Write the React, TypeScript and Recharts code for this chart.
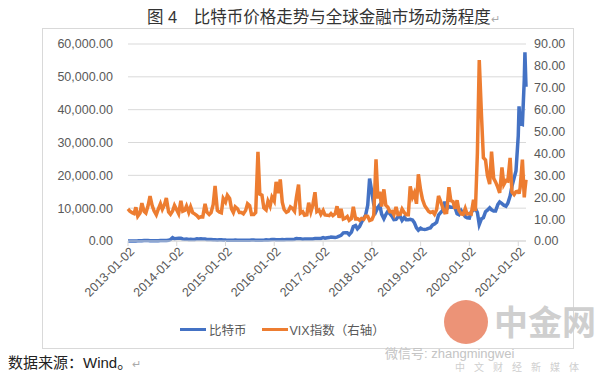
import { LineChart, Line, XAxis, YAxis, CartesianGrid } from 'recharts';

const dates = [
  "2013-01-02","2013-01-16","2013-02-02","2013-02-16","2013-03-02","2013-03-16","2013-04-02","2013-04-16","2013-05-02","2013-05-16","2013-06-02","2013-06-16","2013-07-02","2013-07-16","2013-08-02","2013-08-16","2013-09-02","2013-09-16","2013-10-02","2013-10-16","2013-11-02","2013-11-16","2013-12-02","2013-12-16",
  "2014-01-02","2014-01-16","2014-02-02","2014-02-16","2014-03-02","2014-03-16","2014-04-02","2014-04-16","2014-05-02","2014-05-16","2014-06-02","2014-06-16","2014-07-02","2014-07-16","2014-08-02","2014-08-16","2014-09-02","2014-09-16","2014-10-02","2014-10-16","2014-11-02","2014-11-16","2014-12-02","2014-12-16",
  "2015-01-02","2015-01-16","2015-02-02","2015-02-16","2015-03-02","2015-03-16","2015-04-02","2015-04-16","2015-05-02","2015-05-16","2015-06-02","2015-06-16","2015-07-02","2015-07-16","2015-08-02","2015-08-16","2015-09-02","2015-09-16","2015-10-02","2015-10-16","2015-11-02","2015-11-16","2015-12-02","2015-12-16",
  "2016-01-02","2016-01-16","2016-02-02","2016-02-16","2016-03-02","2016-03-16","2016-04-02","2016-04-16","2016-05-02","2016-05-16","2016-06-02","2016-06-16","2016-07-02","2016-07-16","2016-08-02","2016-08-16","2016-09-02","2016-09-16","2016-10-02","2016-10-16","2016-11-02","2016-11-16","2016-12-02","2016-12-16",
  "2017-01-02","2017-01-16","2017-02-02","2017-02-16","2017-03-02","2017-03-16","2017-04-02","2017-04-16","2017-05-02","2017-05-16","2017-06-02","2017-06-16","2017-07-02","2017-07-16","2017-08-02","2017-08-16","2017-09-02","2017-09-16","2017-10-02","2017-10-16","2017-11-02","2017-11-16","2017-12-02","2017-12-16",
  "2018-01-02","2018-01-16","2018-02-02","2018-02-16","2018-03-02","2018-03-16","2018-04-02","2018-04-16","2018-05-02","2018-05-16","2018-06-02","2018-06-16","2018-07-02","2018-07-16","2018-08-02","2018-08-16","2018-09-02","2018-09-16","2018-10-02","2018-10-16","2018-11-02","2018-11-16","2018-12-02","2018-12-16",
  "2019-01-02","2019-01-16","2019-02-02","2019-02-16","2019-03-02","2019-03-16","2019-04-02","2019-04-16","2019-05-02","2019-05-16","2019-06-02","2019-06-16","2019-07-02","2019-07-16","2019-08-02","2019-08-16","2019-09-02","2019-09-16","2019-10-02","2019-10-16","2019-11-02","2019-11-16","2019-12-02","2019-12-16",
  "2020-01-02","2020-01-16","2020-02-02","2020-02-16","2020-03-02","2020-03-16","2020-04-02","2020-04-16","2020-05-02","2020-05-16","2020-06-02","2020-06-16","2020-07-02","2020-07-16","2020-08-02","2020-08-16","2020-09-02","2020-09-16","2020-10-02","2020-10-16","2020-11-02","2020-11-16","2020-12-02","2020-12-16",
  "2021-01-02","2021-01-08","2021-01-16","2021-02-02","2021-02-16","2021-02-21","2021-03-01",
];

// 比特币 (USD)
const btcPrice = [
  13, 15, 20, 27, 34, 47, 100, 80, 115, 120, 122, 102, 90, 95, 97, 100, 125, 125, 125, 140, 200, 430, 1000, 690,
  800, 830, 820, 620, 560, 630, 450, 520, 450, 450, 660, 590, 650, 620, 590, 490, 480, 460, 380, 390, 320, 390, 380, 320,
  315, 200, 240, 235, 260, 285, 250, 225, 235, 237, 225, 250, 255, 280, 280, 260, 230, 230, 238, 265, 360, 330, 360, 455,
  430, 385, 370, 405, 430, 415, 420, 430, 450, 455, 540, 750, 680, 665, 550, 575, 575, 610, 615, 640, 730, 740, 770, 790,
  1020, 830, 1000, 1040, 1230, 1170, 1100, 1180, 1450, 1730, 2480, 2500, 2500, 1930, 2730, 4380, 4700, 3700, 4400, 5600, 7000, 7900, 10900, 19000,
  14800, 11200, 9000, 10200, 11000, 8200, 6800, 8000, 9100, 8300, 7500, 6500, 6600, 7300, 7500, 6300, 7200, 6500, 6500, 6600, 6400, 5600, 4000, 3300,
  3900, 3600, 3500, 3600, 3850, 4000, 4900, 5200, 5700, 7900, 8700, 9300, 12000, 9700, 10500, 10300, 10300, 10200, 8300, 8000, 9300, 8500, 7400, 7100,
  7000, 8900, 9400, 9900, 8700, 5000, 6800, 7100, 8900, 9400, 10100, 9500, 9100, 9100, 11100, 11900, 11400, 10900, 10600, 11500, 13700, 16700, 19200, 21300,
  32000, 41000, 35800, 35500, 49000, 57500, 47000,
];

// VIX指数 (右轴)
const vixIndex = [
  14.7, 13.6, 12.9, 12.5, 15.4, 11.3, 12.8, 17.3, 13.6, 12.8, 16.3, 20.5, 16.2, 13.8, 12.0, 14.4, 17.0, 14.5, 16.6, 19.6, 13.2, 12.2, 13.7, 16.2,
  14.2, 12.5, 18.4, 13.6, 14.0, 16.0, 13.1, 15.6, 12.9, 12.4, 11.6, 10.6, 11.1, 11.0, 17.0, 13.2, 12.1, 13.0, 16.7, 25.2, 14.0, 13.3, 12.9, 19.4,
  17.8, 20.9, 19.4, 14.7, 13.0, 15.6, 14.7, 13.0, 13.0, 12.4, 14.0, 17.0, 16.1, 12.1, 12.1, 13.0, 40.7, 21.4, 20.9, 15.1, 14.2, 18.2, 15.9, 20.0,
  18.2, 27.0, 21.9, 28.1, 17.7, 14.4, 13.1, 13.6, 15.6, 15.0, 13.6, 20.0, 25.8, 12.7, 13.4, 11.8, 12.0, 17.5, 13.3, 16.2, 22.3, 13.4, 14.1, 12.2,
  14.0, 11.9, 11.8, 11.6, 12.5, 11.6, 12.4, 15.9, 10.6, 14.7, 10.0, 10.4, 11.2, 9.5, 10.3, 15.6, 10.1, 10.2, 9.5, 10.3, 9.9, 11.4, 11.3, 9.4,
  9.8, 11.7, 37.3, 19.5, 22.5, 15.8, 23.6, 16.4, 15.4, 13.4, 13.5, 12.0, 15.6, 12.1, 12.2, 14.6, 12.9, 12.0, 12.0, 25.0, 20.0, 22.0, 17.0, 30.5,
  23.2, 19.0, 16.1, 14.9, 13.6, 13.0, 13.4, 12.2, 14.4, 20.6, 17.9, 15.3, 12.9, 13.0, 24.6, 18.5, 18.0, 14.7, 18.6, 14.0, 12.3, 12.1, 14.9, 12.3,
  12.5, 12.3, 18.8, 13.7, 40.1, 82.7, 57.0, 38.0, 37.0, 30.0, 26.0, 40.8, 28.6, 27.0, 24.5, 22.0, 33.6, 25.8, 27.6, 27.4, 38.0, 22.4, 21.2, 22.5,
  22.8, 21.6, 24.3, 37.2, 19.9, 23.5, 28.0,
];

const xTickLabels = ["2013-01-02","2014-01-02","2015-01-02","2016-01-02","2017-01-02","2018-01-02","2019-01-02","2020-01-02","2021-01-02"];
const leftTicks = [0, 10000, 20000, 30000, 40000, 50000, 60000];
const rightTicks = [0, 10, 20, 30, 40, 50, 60, 70, 80, 90];

const toTs = (d: string) => new Date(d + 'T00:00:00Z').getTime();

const chartData = dates.map((d, i) => ({ t: toTs(d), btc: btcPrice[i], vix: vixIndex[i] }));

const FONT = '"Liberation Sans", "Noto Sans CJK SC", sans-serif';
const GRAY = '#595959';

const DateTick = ({ x, y, payload }: any) => {
  const s = new Date(payload.value).toISOString().slice(0, 10);
  return (
    <g transform={`translate(${x},${y})`}>
      <text x={2} y={0} dy={8} textAnchor="end" transform="rotate(-45)" fill={GRAY} fontSize={12.5} fontFamily={FONT}>
        {s}
      </text>
    </g>
  );
};

export default function App() {
  return (
    <div style={{ position: 'fixed', left: 0, top: 0, width: 600, height: 376, background: '#fff', fontFamily: FONT }}>
      <div style={{ position: 'absolute', left: 147, top: 4, fontSize: 16.5, color: '#333', whiteSpace: 'nowrap' }}>
        图 4　比特币价格走势与全球金融市场动荡程度<span style={{ color: '#aaa', fontSize: 11 }}>↵</span>
      </div>

      <div style={{ position: 'absolute', left: 42, top: 28, width: 530, height: 319, border: '1px solid #d9d9d9' }}>
        <LineChart width={530} height={319} data={chartData} margin={{ top: 15, right: 0, left: 0, bottom: 0 }}>
          <CartesianGrid vertical={false} stroke="#d9d9d9" yAxisId="left" />
          <XAxis
            type="number"
            dataKey="t"
            domain={[chartData[0].t, chartData[chartData.length - 1].t]}
            ticks={xTickLabels.map(toTs)}
            tick={<DateTick />}
            interval={0}
            height={107}
            axisLine={{ stroke: '#d9d9d9' }}
            tickLine={{ stroke: '#d9d9d9' }}
            tickSize={5}
            yAxisId="left"
          />
          <YAxis
            yAxisId="left"
            domain={[0, 60000]}
            ticks={leftTicks}
            width={85}
            axisLine={false}
            tickLine={false}
            tickMargin={9}
            tick={{ fill: GRAY, fontSize: 12.5, fontFamily: FONT }}
            tickFormatter={(v: number) => v.toLocaleString('en-US', { minimumFractionDigits: 2, maximumFractionDigits: 2 })}
          />
          <YAxis
            yAxisId="right"
            orientation="right"
            domain={[0, 90]}
            ticks={rightTicks}
            width={47}
            axisLine={false}
            tickLine={false}
            tickMargin={2}
            tick={{ fill: GRAY, fontSize: 12.5, fontFamily: FONT }}
            tickFormatter={(v: number) => v.toFixed(2)}
          />
          <Line yAxisId="left" type="linear" dataKey="btc" stroke="#4472C4" strokeWidth={3.5} dot={false} isAnimationActive={false} />
          <Line yAxisId="right" type="linear" dataKey="vix" stroke="#ED7D31" strokeWidth={3.5} dot={false} isAnimationActive={false} />
        </LineChart>
      </div>

      <div style={{ position: 'absolute', left: 180, top: 320, display: 'flex', alignItems: 'center', fontSize: 12.5, color: GRAY, whiteSpace: 'nowrap' }}>
        <span style={{ display: 'inline-block', width: 26, height: 3, background: '#4472C4', marginRight: 3 }} />
        <span>比特币</span>
        <span style={{ display: 'inline-block', width: 26, height: 3, background: '#ED7D31', marginLeft: 15, marginRight: 2 }} />
        <span>VIX指数（右轴）</span>
      </div>

      {/* watermark */}
      <div style={{ position: 'absolute', left: 444, top: 300, width: 44, height: 44, borderRadius: 22, background: '#e9805f', opacity: 0.85 }} />
      <div style={{ position: 'absolute', left: 494, top: 296, fontSize: 34, fontWeight: 'bold', color: '#cfcfcf', whiteSpace: 'nowrap' }}>中金网</div>
      <div style={{ position: 'absolute', left: 385, top: 343, fontSize: 13, color: '#c4c4c4', whiteSpace: 'nowrap' }}>微信号: zhangmingwei</div>
      <div style={{ position: 'absolute', left: 455, top: 359, fontSize: 10, color: '#cfcfcf', letterSpacing: 9, whiteSpace: 'nowrap' }}>中文财经新媒体</div>

      <div style={{ position: 'absolute', left: 8, top: 351, fontSize: 15, color: '#222', whiteSpace: 'nowrap' }}>
        数据来源：Wind。<span style={{ color: '#aaa', fontSize: 11 }}>↵</span>
      </div>
    </div>
  );
}
